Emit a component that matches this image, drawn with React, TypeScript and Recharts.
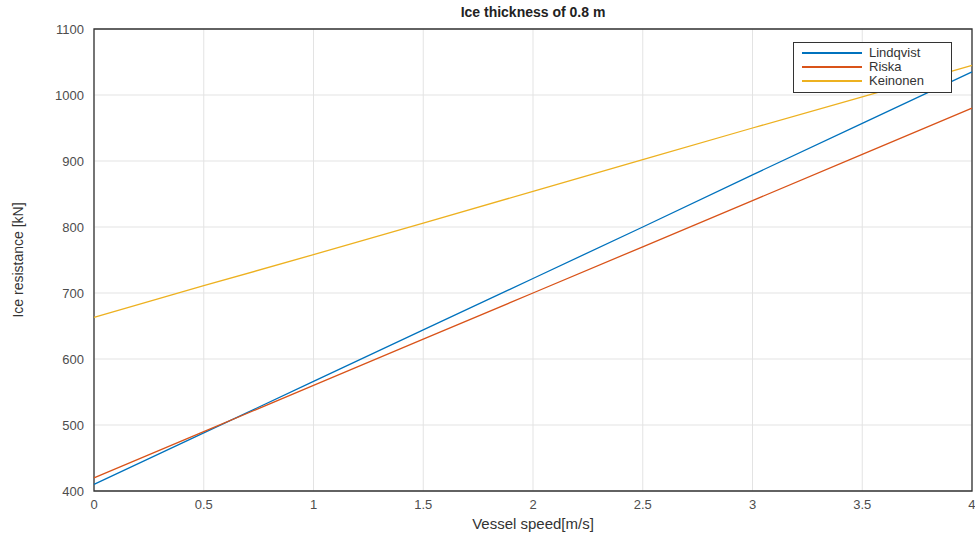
import { LineChart, Line, XAxis, YAxis, CartesianGrid, ReferenceArea, Label } from 'recharts';

const speeds = [0, 0.5, 1, 1.5, 2, 2.5, 3, 3.5, 4];
const lindqvist = [410, 488, 566, 644, 722, 800, 879, 957, 1035];
const riska = [420, 490, 560, 630, 700, 770, 840, 910, 980];
const keinonen = [663, 711, 758, 806, 854, 902, 950, 997, 1045];
const yTicks = [400, 500, 600, 700, 800, 900, 1000, 1100];

const series = [
  { key: 'Lindqvist', color: '#0072BD' },
  { key: 'Riska', color: '#D95319' },
  { key: 'Keinonen', color: '#EDB120' },
];

const data = speeds.map((s, i) => ({
  speed: s,
  Lindqvist: lindqvist[i],
  Riska: riska[i],
  Keinonen: keinonen[i],
}));

const font = '"Liberation Sans", Arial, sans-serif';

function LegendBox() {
  return (
    <div
      style={{
        position: 'absolute',
        top: 42,
        left: 793,
        width: 157,
        border: '1px solid #333',
        background: '#fff',
        padding: '3px 0 4px 0',
        fontFamily: font,
        fontSize: 13,
        color: '#333',
        lineHeight: '14px',
      }}
    >
      {series.map((s) => (
        <div key={s.key} style={{ display: 'flex', alignItems: 'center' }}>
          <span style={{ display: 'inline-block', width: 60, height: 1.5, background: s.color, marginLeft: 8, marginRight: 7 }} />
          <span>{s.key}</span>
        </div>
      ))}
    </div>
  );
}

export default function App() {
  return (
    <div style={{ position: 'absolute', left: 0, top: 0, width: 975, height: 538, background: '#fff' }}>
      <div
        style={{
          position: 'absolute',
          top: 4,
          left: 94,
          width: 878,
          textAlign: 'center',
          fontFamily: font,
          fontWeight: 'bold',
          fontSize: 14,
          color: '#222',
        }}
      >
        Ice thickness of 0.8 m
      </div>
      <LineChart width={975} height={538} data={data} margin={{ top: 29, right: 3, bottom: 0, left: 0 }}>
        <CartesianGrid stroke="#e3e3e3" strokeWidth={1} />
        <XAxis
          dataKey="speed"
          type="number"
          domain={[0, 4]}
          ticks={speeds}
          height={47}
          tickSize={0}
          tickMargin={9}
          axisLine={false}
          tick={{ fill: '#4d4d4d', fontSize: 13, fontFamily: font }}
        >
          <Label
            value="Vessel speed[m/s]"
            position="insideBottom"
            offset={9}
            style={{ fill: '#333', fontSize: 15, fontFamily: font }}
          />
        </XAxis>
        <YAxis
          type="number"
          domain={[400, 1100]}
          ticks={yTicks}
          width={94}
          tickSize={0}
          tickMargin={10}
          axisLine={false}
          tick={{ fill: '#4d4d4d', fontSize: 13, fontFamily: font }}
        >
          <Label
            value="Ice resistance [kN]"
            angle={-90}
            position="insideLeft"
            offset={18}
            style={{ textAnchor: 'middle', fill: '#333', fontSize: 14, fontFamily: font }}
          />
        </YAxis>
        <ReferenceArea x1={0} x2={4} y1={400} y2={1100} fill="none" stroke="#333" strokeWidth={1.3} />
        {series.map((s) => (
          <Line
            key={s.key}
            type="linear"
            dataKey={s.key}
            stroke={s.color}
            strokeWidth={1.3}
            dot={false}
            isAnimationActive={false}
          />
        ))}
      </LineChart>
      <LegendBox />
    </div>
  );
}
